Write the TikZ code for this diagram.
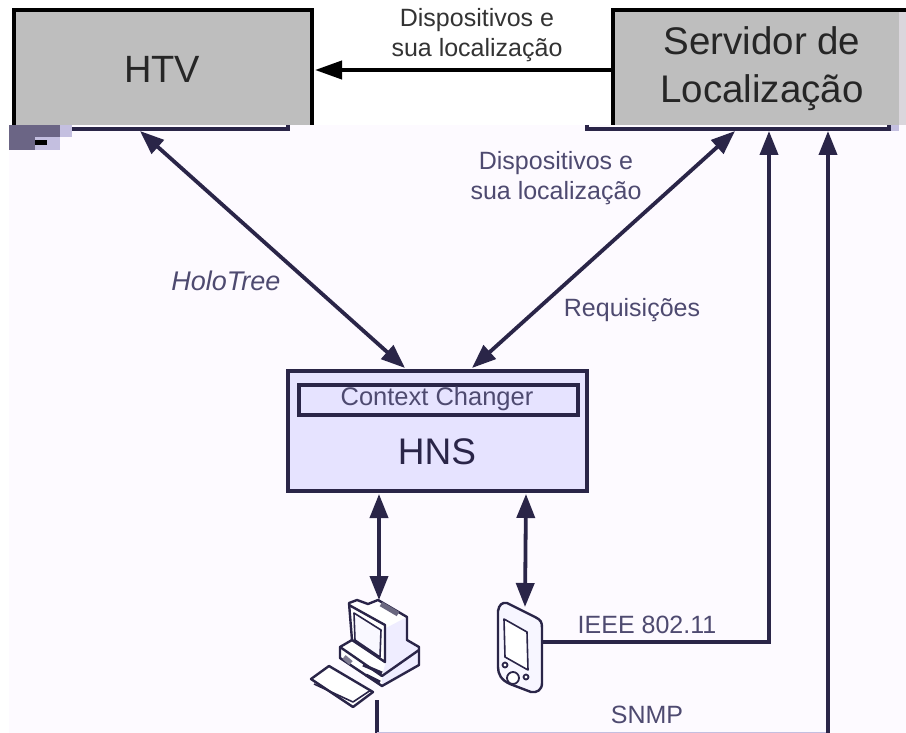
\documentclass[tikz,border=0pt]{standalone}
\usepackage{fontspec}
\setmainfont{Liberation Sans}
\usetikzlibrary{arrows.meta}
\definecolor{inkdark}{HTML}{2A2548}
\definecolor{inktext}{HTML}{4E4A70}
\definecolor{paper}{HTML}{FDFAFF}
\definecolor{lavender}{HTML}{E6E3FF}
\definecolor{iconshade}{HTML}{EFEDFF}
\definecolor{boxgray}{HTML}{BEBEBE}
\definecolor{glitch}{HTML}{6B6585}
\definecolor{glitchlight}{HTML}{C4BFE0}
\definecolor{edgepale}{HTML}{DAD6DC}
\tikzset{
  link/.style={line width=3.8pt, inkdark, line join=miter, -{Triangle[length=24pt,width=18pt]}},
  linkboth/.style={line width=3.8pt, inkdark, {Triangle[length=24pt,width=18pt]}-{Triangle[length=24pt,width=18pt]}},
  grouplabel/.style={font=\fontsize{25}{30}\selectfont, inktext, align=center},
  toplabel/.style={font=\fontsize{25}{30}\selectfont, black!80, align=center},
  icon/.style={line width=2.4pt, inkdark, line join=round},
}
\begin{document}
\begin{tikzpicture}[x=1pt, y=-1pt]
	\useasboundingbox (0, 0) rectangle (906, 733);
	\fill[white] (0, 0) rectangle (906, 733);
	\fill[paper] (9, 125) rectangle (906, 733);

	% grey boxes, cut off by the lower part
	\filldraw[boxgray, draw=black, line width=4pt] (13.5, 125) -- (13.5, 10.5) -- (312, 10.5) -- (312, 125);
	\filldraw[boxgray, draw=black, line width=4pt] (613, 125) -- (613, 10.5) -- (906, 10.5) -- (906, 125);
	\fill[edgepale] (899, 12.5) rectangle (906, 125);
	\node[font=\fontsize{38}{48}\selectfont, black!85] (htv) at (162, 69) {HTV};
	\node[font=\fontsize{38.5}{48}\selectfont, black!85, align=center] (servidor) at (762, 69) {Servidor de\\Localização};
	\fill[glitchlight] (889, 125) rectangle (899, 131);
	\draw[line width=3.5pt, inkdark] (72, 129) -- (288, 129) -- (288, 125);
	\draw[line width=3.5pt, inkdark] (587, 125) -- (587, 129) -- (889, 129) -- (889, 125);

	% glitch under the HTV box
	\fill[glitch] (9, 125) rectangle (60, 137);
	\fill[glitchlight] (60, 125) rectangle (72, 137);
	\fill[glitch] (9, 137) rectangle (35, 150);
	\fill[glitchlight] (35, 137) rectangle (60, 150);
	\fill[black] (35, 140) rectangle (47, 145);

	% HNS
	\filldraw[lavender, draw=inkdark, line width=4pt] (288, 371) rectangle (587, 491);
	\filldraw[lavender, draw=inkdark, line width=4.5pt] (299, 385) rectangle (578, 415);
	\node[font=\fontsize{25.5}{30}\selectfont, inktext] (context) at (437, 399) {Context Changer};
	\node[font=\fontsize{37}{44}\selectfont, inkdark] (hns) at (437, 452) {HNS};

	% computer
	\coordinate (pc) at (379, 600);
	\fill[white] (349, 603) -- (378, 600) -- (407, 617) -- (407, 640) -- (419, 647) -- (419, 665) -- (382, 686) -- (340, 658) -- (340, 647) -- (352, 640) -- cycle;
	\fill[iconshade] (386, 628) -- (407, 617) -- (407, 640) -- (419, 647) -- (419, 665) -- (382, 686) -- (382, 675) -- (386, 662) -- cycle;
	\draw[icon] (349, 603) -- (357, 600) -- (368, 604) -- (378, 600) -- (407, 617) -- (407, 640) -- (419, 647) -- (419, 665) -- (382, 686) -- (340, 658) -- (340, 647) -- (352, 640) -- cycle;
	\draw[icon] (349, 605) -- (385, 625) -- (385, 662) -- (352, 640);
	\draw[icon, line width=1.6pt, fill=iconshade!40] (354, 613) -- (381, 630) -- (380, 657) -- (355, 640) -- cycle;
	\draw[icon] (340, 647) -- (382, 676) -- (419, 650);
	\draw[icon, line width=3pt] (363, 665) -- (382, 673);
	\draw[icon, line width=3pt] (366, 675) -- (380, 682);
	\draw[icon, line width=5pt, inkdark!70] (381, 604) -- (398, 614);
	\draw[icon, line width=5pt, inkdark!60] (344, 657) -- (351, 663);
	\draw[icon, fill=white] (311, 679) -- (329, 666) -- (373, 692) -- (353, 707) -- cycle;
	\draw[icon, line width=1.6pt] (314, 684) -- (353, 702) -- (371, 690);

	% pda
	\coordinate (pda) at (525, 607);
	\coordinate (pdaright) at (543, 642);
	\filldraw[iconshade!50, draw=inkdark, line width=2.4pt] (498, 611) .. controls (499, 605) and (502, 602) .. (507, 603) -- (535, 617) .. controls (541, 620) and (542, 622) .. (542, 628) -- (542, 683) .. controls (542, 690) and (537, 693) .. (531, 692) -- (510, 684) .. controls (501, 680) and (498, 674) .. (498, 667) -- cycle;
	\draw[icon, line width=1.6pt, fill=white] (504, 619) -- (527, 632) -- (528, 670) -- (505, 657) -- cycle;
	\draw[icon, line width=1.8pt, fill=white] (505, 665) circle (2.5);
	\draw[icon, line width=1.8pt, fill=white] (526, 677) circle (2.5);
	\draw[icon, line width=1.8pt, fill=white] (513, 678) circle (6);

	% connectors
	\coordinate (htvarrow) at (140, 131);
	\coordinate (hnsleft) at (405, 368);
	\coordinate (servarrow) at (735, 131);
	\coordinate (hnsright) at (472, 368);
	\coordinate (ieeetop) at (769, 131);
	\coordinate (ieeecorner) at (769, 642);
	\coordinate (snmptop) at (828, 131);
	\coordinate (snmpcorner) at (828, 732.5);
	\coordinate (pcfoot) at (377, 700);
	\coordinate (pcbottom) at (377, 732.5);
	\coordinate (hnspc) at (379, 494);
	\coordinate (hnspda) at (526, 494);
	\draw[line width=4pt, black, -{Triangle[length=27pt,width=18pt]}] (613, 70) -- (315, 70);
	\draw[linkboth] (htvarrow) -- (hnsleft);
	\draw[linkboth] (servarrow) -- (hnsright);
	\draw[linkboth] (hnspc) -- (pc);
	\draw[linkboth] (hnspda) -- (pda);
	\draw[link] (pdaright) -- (ieeecorner) -- (ieeetop);
	\draw[line width=3.5pt, inkdark] (pcfoot) -- (pcbottom);
	\draw[line width=1.2pt, glitchlight] (pcbottom) -- (snmpcorner);
	\draw[link] (snmpcorner) -- (snmptop);

	% labels
	\node[toplabel] (toptext) at (477, 35) {Dispositivos e\\sua localização};
	\node[grouplabel] (reqtext) at (556, 178) {Dispositivos e\\sua localização};
	\node[grouplabel, font=\fontsize{27}{30}\selectfont\itshape] (holotree) at (226, 281) {HoloTree};
	\node[grouplabel] (requisicoes) at (632, 310) {Requisições};
	\node[grouplabel] (ieee) at (647, 625) {IEEE 802.11};
	\node[grouplabel] (snmp) at (647, 715) {SNMP};
\end{tikzpicture}
\end{document}
